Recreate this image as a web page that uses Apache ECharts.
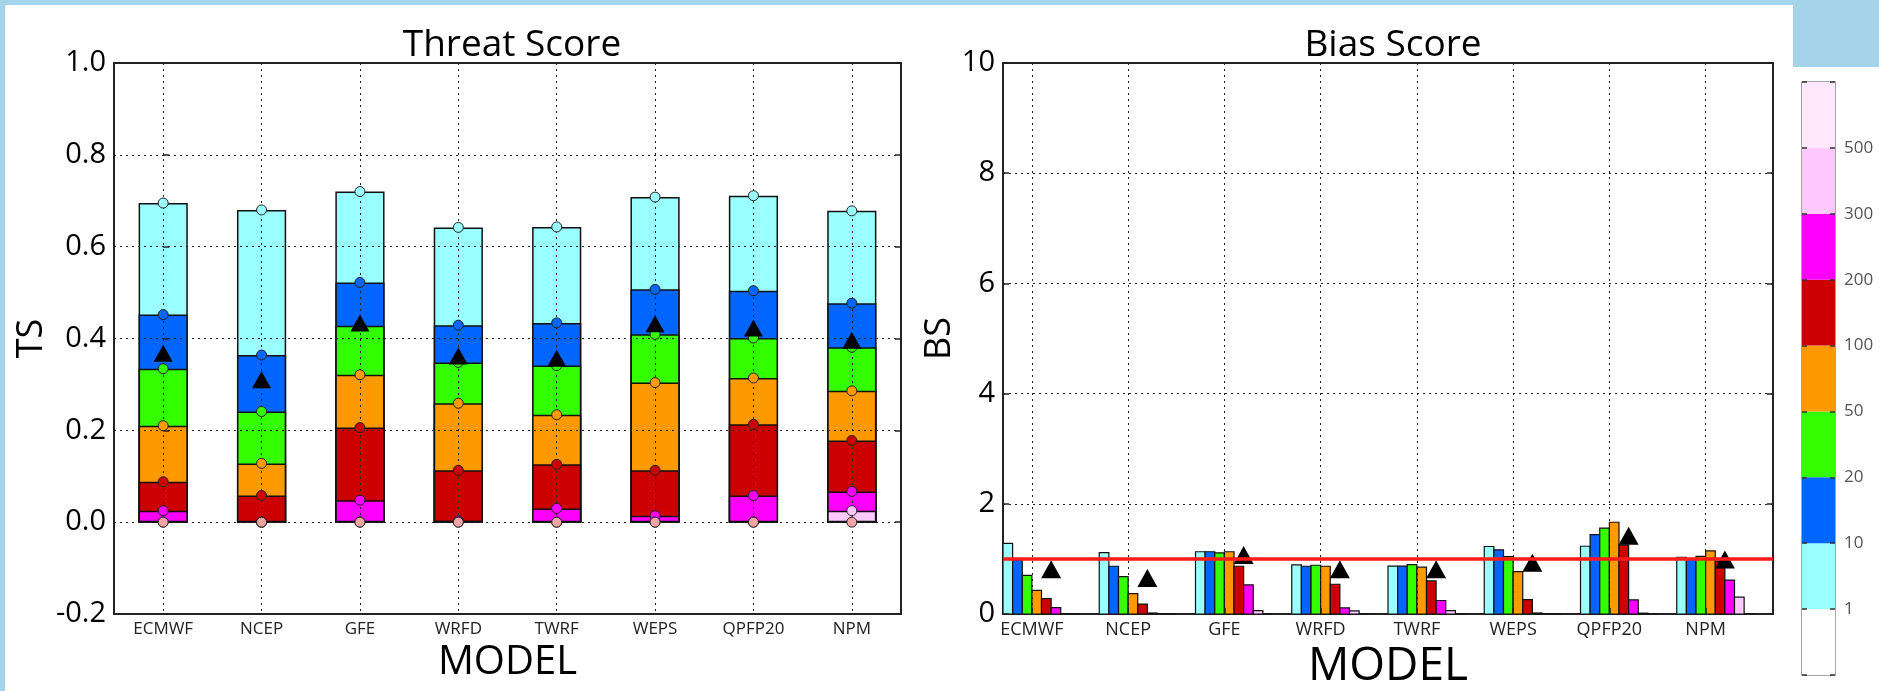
<!DOCTYPE html>
<html><head><meta charset="utf-8">
<script src="https://cdn.jsdelivr.net/npm/echarts@6/dist/echarts.min.js"></script>
<style>html,body{margin:0;padding:0;background:#fff}#c{width:1879px;height:691px}</style>
</head><body><div id="c"></div>
<script>
// ---- data ----
const models = ['ECMWF', 'NCEP', 'GFE', 'WRFD', 'TWRF', 'WEPS', 'QPFP20', 'NPM'];
const thresholds = ['1', '10', '20', '50', '100', '200', '300', '500'];

// Threat score per threshold
const ts1   = [0.695, 0.680, 0.720, 0.642, 0.643, 0.708, 0.711, 0.678];
const ts10  = [0.452, 0.364, 0.522, 0.429, 0.434, 0.507, 0.504, 0.477];
const ts20  = [0.334, 0.241, 0.428, 0.348, 0.341, 0.409, 0.401, 0.381];
const ts50  = [0.210, 0.128, 0.321, 0.259, 0.234, 0.304, 0.314, 0.286];
const ts100 = [0.088, 0.058, 0.206, 0.113, 0.126, 0.113, 0.213, 0.178];
const ts200 = [0.025, 0.000, 0.048, 0.003, 0.030, 0.014, 0.058, 0.067];
const ts300 = [0.000, 0.000, 0.000, 0.000, 0.000, 0.000, 0.000, 0.025];
const ts500 = [0.000, 0.000, 0.000, 0.000, 0.000, 0.000, 0.000, 0.000];
const tsMean = [0.368, 0.310, 0.434, 0.362, 0.357, 0.432, 0.423, 0.396];

// Bias score per threshold
const bs1   = [1.28, 1.115, 1.13, 0.89, 0.87, 1.225, 1.23, 1.03];
const bs10  = [0.98, 0.867, 1.13, 0.867, 0.87, 1.165, 1.44, 1.00];
const bs20  = [0.70, 0.68, 1.11, 0.885, 0.895, 1.04, 1.56, 1.045];
const bs50  = [0.43, 0.37, 1.13, 0.867, 0.85, 0.77, 1.665, 1.145];
const bs100 = [0.28, 0.18, 0.867, 0.54, 0.60, 0.26, 1.25, 0.96];
const bs200 = [0.115, 0.018, 0.53, 0.11, 0.245, 0.018, 0.255, 0.615];
const bs300 = [0.005, 0.005, 0.06, 0.055, 0.06, 0.005, 0.015, 0.305];
const bs500 = [0, 0, 0, 0, 0, 0, 0, 0];
const bsMean = [0.81, 0.655, 1.07, 0.81, 0.81, 0.93, 1.42, 0.99];

// ---- styles ----
const barColors = ['#99ffff', '#0066ff', '#33ff00', '#ff9900', '#cc0000', '#ff00ff', '#ffc8ff', '#ffe8fb'];
const dotColors = ['#99ffff', '#0066ff', '#33ff00', '#ff9900', '#cc0000', '#ff00ff', '#ffc8ff', '#f2a4a4'];
const cbColors = ['#ffffff'].concat(barColors);
const FONT = 'Open Sans';
const BLUE = '#a5d3e9';

const tsAll = [ts1, ts10, ts20, ts50, ts100, ts200, ts300, ts500];
const bsAll = [bs1, bs10, bs20, bs50, bs100, bs200, bs300, bs500];

const chart = echarts.init(document.getElementById('c'));

const dotted = { show: true, lineStyle: { color: '#222', width: 1, type: [2, 4] } };
const inTick = { show: true, inside: true, length: 6, lineStyle: { color: '#222', width: 1.5 } };

const series = [];
// left panel: overlapping bars
tsAll.forEach((arr, k) => {
  series.push({
    type: 'bar', name: 'TS' + thresholds[k], xAxisIndex: 0, yAxisIndex: 0,
    data: arr, barWidth: '50%', barGap: '-100%', z: 2, silent: true,
    itemStyle: { color: barColors[k], borderColor: '#111', borderWidth: 1.5 }
  });
});
tsAll.forEach((arr, k) => {
  series.push({
    type: 'scatter', xAxisIndex: 0, yAxisIndex: 0, data: arr, symbol: 'circle', symbolSize: 10, z: 5, silent: true,
    itemStyle: { color: dotColors[k], borderColor: '#222', borderWidth: 1, opacity: 1 }
  });
});
series.push({
  type: 'scatter', xAxisIndex: 0, yAxisIndex: 0, data: tsMean, symbol: 'triangle', symbolSize: [19, 17], z: 6, silent: true,
  itemStyle: { color: '#000', opacity: 1 }
});
// right panel: grouped bars via custom series
bsAll.forEach((arr, k) => {
  series.push({
    type: 'custom', xAxisIndex: 1, yAxisIndex: 2, z: 2, silent: true,
    data: arr.map((v, i) => [i, v]),
    encode: { x: 0, y: 1 },
    renderItem: (params, api) => {
      const i = api.value(0), v = api.value(1);
      const p0 = api.coord([i + 0.1 * k, v]);
      const p1 = api.coord([i + 0.1 * (k + 1), 0]);
      return { type: 'rect', shape: { x: p0[0], y: p0[1], width: p1[0] - p0[0], height: p1[1] - p0[1] },
        style: { fill: barColors[k], stroke: '#111', lineWidth: 1.2 } };
    }
  });
});
series.push({
  type: 'scatter', xAxisIndex: 1, yAxisIndex: 2, data: bsMean.map((v, i) => [i + 0.5, v]),
  symbol: 'triangle', symbolSize: [20, 18], z: 6, silent: true, itemStyle: { color: '#000', opacity: 1 },
  markLine: { silent: true, symbol: 'none', z: 7, label: { show: false },
    lineStyle: { color: '#ff1a1a', width: 3.5, type: 'solid' }, data: [{ yAxis: 1 }] }
});
// colorbar
cbColors.forEach((c, j) => {
  series.push({ type: 'bar', xAxisIndex: 2, yAxisIndex: 4, stack: 'cb', data: [1], barWidth: '100%', silent: true,
    itemStyle: { color: c } });
});

const gridBase = { show: true, backgroundColor: 'transparent', outerBoundsMode: 'none', containLabel: false };

const option = {
  animation: false,
  backgroundColor: '#fff',
  textStyle: { fontFamily: FONT },
  title: [
    { text: 'Threat Score', left: 507, top: 22, textAlign: 'center',
      textStyle: { fontFamily: FONT, fontSize: 37, fontWeight: 'normal', color: '#000' } },
    { text: 'Bias Score', left: 1388, top: 22, textAlign: 'center',
      textStyle: { fontFamily: FONT, fontSize: 37, fontWeight: 'normal', color: '#000' } }
  ],
  graphic: [
    { type: 'rect', shape: { x: 0, y: 0, width: 1879, height: 5 }, style: { fill: BLUE }, silent: true },
    { type: 'rect', shape: { x: 0, y: 0, width: 5, height: 691 }, style: { fill: BLUE }, silent: true },
    { type: 'rect', shape: { x: 1793, y: 0, width: 86, height: 67 }, style: { fill: BLUE }, silent: true }
  ],
  grid: [
    Object.assign({ left: 114, right: 978, top: 63, bottom: 77, borderColor: '#222', borderWidth: 2 }, gridBase),
    Object.assign({ left: 1003, right: 106, top: 63, bottom: 77, borderColor: '#222', borderWidth: 2 }, gridBase),
    Object.assign({ left: 1802, right: 44, top: 82, bottom: 16, borderColor: '#888', borderWidth: 1.5 }, gridBase)
  ],
  xAxis: [
    { type: 'category', gridIndex: 0, data: models, show: false, position: 'bottom' },
    { type: 'value', gridIndex: 1, min: 0, max: 8, z: 3, position: 'bottom',
      axisLine: { show: false },
      axisTick: Object.assign({ customValues: models.map((m, i) => i + 0.3) }, inTick),
      axisLabel: { customValues: models.map((m, i) => i + 0.3), fontFamily: FONT, fontSize: 18, color: '#222', margin: 7,
        formatter: v => models[Math.round(v - 0.3)] },
      splitLine: dotted,
      name: 'MODEL', nameLocation: 'middle', nameGap: 19,
      nameTextStyle: { fontFamily: FONT, fontSize: 46, color: '#000' } },
    { type: 'category', gridIndex: 2, data: [''], show: false, position: 'bottom' },
    { type: 'value', gridIndex: 0, min: -0.5, max: models.length - 0.5, z: 3, position: 'bottom', offset: 0,
      axisLine: { show: false },
      axisTick: Object.assign({ customValues: models.map((m, i) => i) }, inTick),
      axisLabel: { customValues: models.map((m, i) => i), fontFamily: FONT, fontSize: 17, color: '#222', margin: 7,
        formatter: v => models[Math.round(v)] },
      splitLine: dotted,
      name: 'MODEL', nameLocation: 'middle', nameGap: 24,
      nameTextStyle: { fontFamily: FONT, fontSize: 40, color: '#000' } }
  ],
  yAxis: [
    { type: 'value', gridIndex: 0, min: -0.2, max: 1.0, interval: 0.2, z: 3,
      axisLine: { show: false }, axisTick: inTick, splitLine: dotted,
      axisLabel: { fontFamily: FONT, fontSize: 29, color: '#000', margin: 8, formatter: v => v.toFixed(1) },
      name: 'TS', nameLocation: 'middle', nameGap: 64, nameRotate: 90,
      nameTextStyle: { fontFamily: FONT, fontSize: 36, color: '#000' } },
    { type: 'value', gridIndex: 0, min: -0.2, max: 1.0, interval: 0.2, position: 'right', z: 3,
      axisLine: { show: false }, axisTick: inTick, splitLine: { show: false }, axisLabel: { show: false } },
    { type: 'value', gridIndex: 1, min: 0, max: 10, interval: 2, z: 3,
      axisLine: { show: false }, axisTick: inTick, splitLine: dotted,
      axisLabel: { fontFamily: FONT, fontSize: 29, color: '#000', margin: 8 },
      name: 'BS', nameLocation: 'middle', nameGap: 34, nameRotate: 90,
      nameTextStyle: { fontFamily: FONT, fontSize: 36, color: '#000' } },
    { type: 'value', gridIndex: 1, min: 0, max: 10, interval: 2, position: 'right', z: 3,
      axisLine: { show: false }, axisTick: inTick, splitLine: { show: false }, axisLabel: { show: false } },
    { type: 'value', gridIndex: 2, min: 0, max: 9, interval: 1, position: 'right', z: 3,
      axisLine: { show: false }, splitLine: { show: false },
      axisTick: { show: true, inside: true, length: 5, lineStyle: { color: '#333', width: 1.5 } },
      axisLabel: { fontFamily: FONT, fontSize: 17, color: '#555', margin: 9,
        formatter: v => (v >= 1 && v <= thresholds.length) ? thresholds[v - 1] : '' } },
    { type: 'value', gridIndex: 2, min: 0, max: 9, interval: 1, position: 'left', z: 3,
      axisLine: { show: false }, splitLine: { show: false }, axisLabel: { show: false },
      axisTick: { show: true, inside: true, length: 5, lineStyle: { color: '#333', width: 1.5 } } }
  ],
  series: series
};
chart.setOption(option);
</script></body></html>
